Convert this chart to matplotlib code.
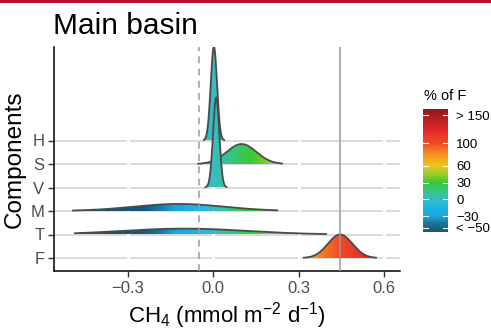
import numpy as np
import matplotlib.pyplot as plt
from matplotlib.colors import LinearSegmentedColormap, Normalize
from matplotlib.patches import Polygon, Rectangle
import matplotlib.cm as cm

plt.rcParams['font.family'] = ['Liberation Sans', 'DejaVu Sans']
plt.rcParams['mathtext.fontset'] = 'custom'
plt.rcParams['mathtext.rm'] = 'Liberation Sans'
plt.rcParams['mathtext.it'] = 'Liberation Sans:italic'
plt.rcParams['mathtext.default'] = 'regular'

# components, bottom to top
components = ['F', 'T', 'M', 'V', 'S', 'H']
# shape of each ridge
centers = [0.446, -0.10, -0.12, 0.011, 0.100, 0.003]
spreads = [0.043, 0.22, 0.16, 0.011, 0.052, 0.011]
x_min = [0.316, -0.487, -0.494, -0.030, -0.055, -0.035]
x_max = [0.575, 0.400, 0.228, 0.050, 0.245, 0.042]
peak_heights = [1.0, 0.25, 0.30, 3.83, 0.85, 4.0]

F_total = 0.446          # solid reference line
dashed_at = -0.049       # dashed reference line

pct_ticks = [-50, -30, 0, 30, 60, 100, 150]
pct_labels = ['< \u221250', '\u221230', '0', '30', '60', '100', '> 150']
x_ticks = [-0.3, 0.0, 0.3, 0.6]

# colour scale for "% of F"
pct_lo, pct_hi = -58, 161
anchors = [(-58, '#15567a'), (-45, '#1a6f96'), (-30, '#19a6dc'), (-15, '#1ab4e4'),
           (0, '#38bcc4'), (15, '#35c680'), (30, '#38c838'), (45, '#9ccb2a'),
           (60, '#ecc717'), (80, '#f7931e'), (100, '#f04a2a'), (125, '#e02727'),
           (161, '#8b1a1a')]
cmap = LinearSegmentedColormap.from_list(
    'pctF', [((p - pct_lo) / (pct_hi - pct_lo), c) for p, c in anchors])
norm = Normalize(pct_lo, pct_hi)

W, H = 491, 331
fig = plt.figure(figsize=(W / 100, H / 100), dpi=100)

def px_box(l, t, r, b):
    return [l / W, 1 - b / H, (r - l) / W, (b - t) / H]

ax = fig.add_axes(px_box(54, 47, 400, 271))
levels = np.arange(1, len(components) + 1)
ax.set_xlim(-0.558, 0.656)
ax.set_ylim(1 - 13 / 23.5, 1 + 211 / 23.5)

# grid: grey horizontal lines cut by white vertical lines
for lv in levels:
    ax.axhline(lv, color='#d4d4d4', lw=1.2, zorder=0)
for xt in x_ticks:
    ax.axvline(xt, color='white', lw=2, zorder=0.5)

# ridges, top row first so lower rows sit in front
for i in range(len(components) - 1, -1, -1):
    lv = levels[i]
    xs = np.linspace(x_min[i], x_max[i], 400)
    dens = np.exp(-0.5 * ((xs - centers[i]) / spreads[i]) ** 2)
    ys = lv + peak_heights[i] * dens / dens.max()
    z = 2 + (len(components) - i) * 2
    verts = np.column_stack([np.r_[xs, xs[::-1]], np.r_[ys, np.full(len(xs), lv)]])
    patch = Polygon(verts, closed=True, facecolor='none', edgecolor='none')
    ax.add_patch(patch)
    pct = (xs / F_total * 100)[None, :]
    im = ax.imshow(pct, cmap=cmap, norm=norm, aspect='auto', origin='lower',
                   extent=[x_min[i], x_max[i], lv, ys.max()], zorder=z,
                   interpolation='bilinear')
    im.set_clip_path(patch)
    ax.plot(xs, ys, color='#4a4a4a', lw=1.3, zorder=z + 1, solid_capstyle='butt')

ax.axvline(F_total, color='#9a9a9a', lw=1.1, zorder=30)
ax.axvline(dashed_at, color='#9a9a9a', lw=1.1, ls=(0, (4.5, 3.5)), zorder=30)

ax.set_yticks(levels)
ax.set_yticklabels(components)
ax.set_xticks(x_ticks)
ax.set_xticklabels(['\u22120.3', '0.0', '0.3', '0.6'])
ax.tick_params(axis='both', colors='#333333', labelcolor='#4d4d4d',
               labelsize=12, length=4, width=1)
ax.tick_params(axis='x', pad=3)
ax.tick_params(axis='y', pad=3)
for s in ['top', 'right']:
    ax.spines[s].set_visible(False)
for s in ['left', 'bottom']:
    ax.spines[s].set_color('black')
    ax.spines[s].set_linewidth(1.1)

ax.set_xlabel('CH$_4$ (mmol m$^{-2}$ d$^{-1}$)', fontsize=16, labelpad=3)
ax.set_ylabel('Components', fontsize=17.5, labelpad=3)
fig.text(53 / W, 1 - 34 / H, 'Main basin', fontsize=21.5, ha='left', va='baseline')

# colour bar
cax = fig.add_axes(px_box(423, 109, 448, 232))
cb = fig.colorbar(cm.ScalarMappable(norm=norm, cmap=cmap), cax=cax)
cb.outline.set_visible(False)
cb.set_ticks(pct_ticks)
cb.set_ticklabels(pct_labels)
cax.tick_params(length=0, labelsize=9.5, pad=6, labelcolor='black')
for p in pct_ticks:
    cax.plot([0, 0.2], [p, p], color='white', lw=0.8, transform=cax.get_yaxis_transform())
    cax.plot([0.8, 1], [p, p], color='white', lw=0.8, transform=cax.get_yaxis_transform())
fig.text(424 / W, 1 - 96 / H, '% of F', fontsize=10.5, ha='left', va='center')

# thin red band along the top edge
fig.patches.append(Rectangle((0, 1 - 3 / H), 1, 3 / H, transform=fig.transFigure,
                             facecolor='#b5122e', edgecolor='none'))

fig.savefig('out.png', dpi=100)
